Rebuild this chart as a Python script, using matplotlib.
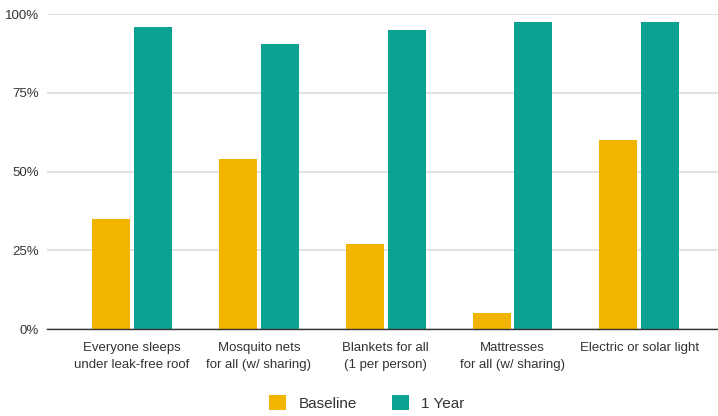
import matplotlib
matplotlib.use("Agg")
import matplotlib.pyplot as plt
import numpy as np

categories = ["Everyone sleeps\nunder leak-free roof", "Mosquito nets\nfor all (w/ sharing)",
              "Blankets for all\n(1 per person)", "Mattresses\nfor all (w/ sharing)",
              "Electric or solar light"]
baseline = [35, 54, 27, 5, 60]
one_year = [96, 90.5, 95, 97.5, 97.5]
yticks = [0, 25, 50, 75, 100]
ytick_labels = ["0%", "25%", "50%", "75%", "100%"]
series_names = ["Baseline", "1 Year"]

c_base = "#F1B400"
c_year = "#0AA393"

plt.rcParams['font.family'] = ['Liberation Sans', 'DejaVu Sans']
fig = plt.figure(figsize=(7.18, 4.16), dpi=100)
ax = fig.add_axes([0.0655, 0.209, 0.9345, 0.757])

x = np.arange(len(categories))
w = 0.3
off = 0.165
ax.bar(x - off, baseline, w, color=c_base, label=series_names[0], zorder=3)
ax.bar(x + off, one_year, w, color=c_year, label=series_names[1], zorder=3)

ax.set_xlim(-0.67, 4.62)
ax.set_ylim(0, 100)
ax.set_yticks(yticks)
ax.set_yticklabels(ytick_labels, fontsize=9.5, color="#333333")
ax.set_xticks(x)
ax.set_xticklabels(categories, fontsize=9.5, color="#333333", linespacing=1.6)
ax.tick_params(axis='both', length=0, pad=6)
ax.tick_params(axis='x', pad=9)
ax.grid(axis='y', color="#dddddd", linewidth=1.2, zorder=0)
for s in ['top', 'right', 'left']:
    ax.spines[s].set_visible(False)
ax.spines['bottom'].set_color("#333333")
ax.spines['bottom'].set_linewidth(1.0)
ax.spines['bottom'].set_zorder(4)

leg = fig.legend(loc='center', bbox_to_anchor=(0.511, 13 / 416), ncol=2, frameon=False,
                 fontsize=11, handlelength=1.1, handleheight=1.1, columnspacing=2.3,
                 handletextpad=0.8, borderaxespad=0)
for t in leg.get_texts():
    t.set_color("#333333")

fig.savefig("out.png", dpi=100)
